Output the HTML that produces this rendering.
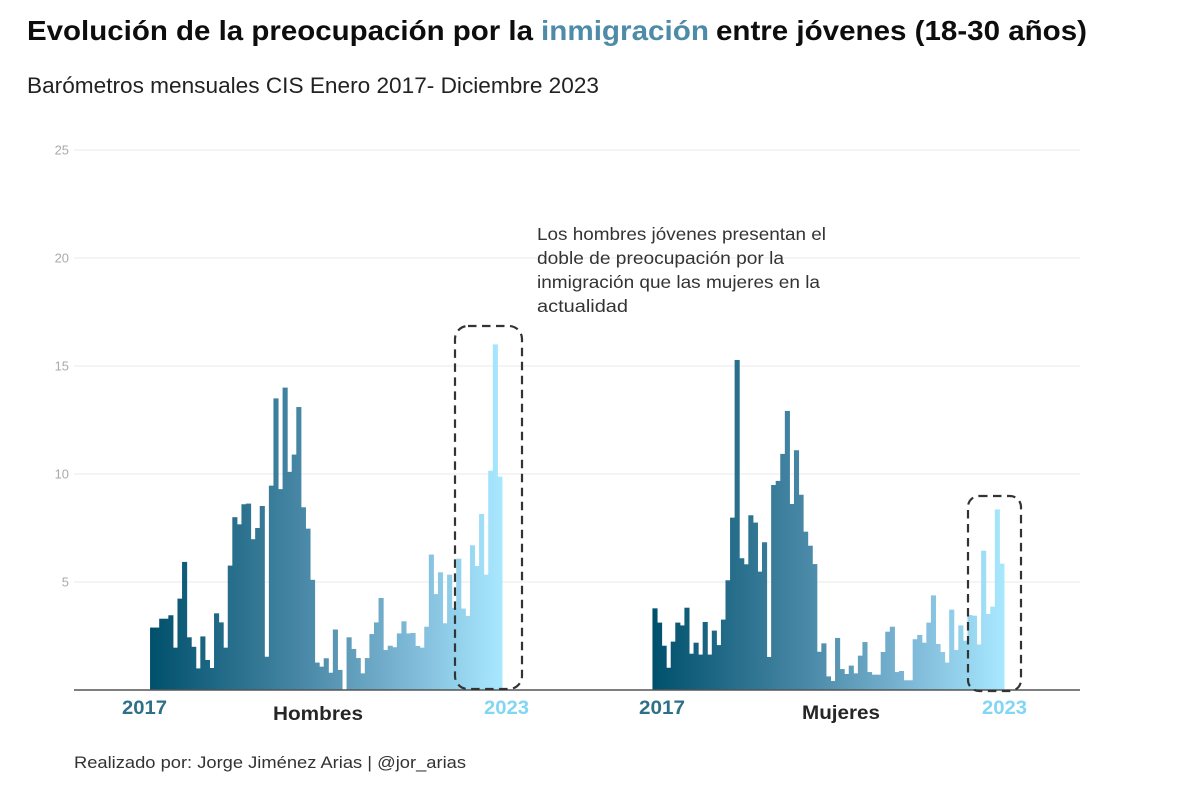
<!DOCTYPE html>
<html lang="es">
<head>
<meta charset="utf-8">
<title>Evolución de la preocupación por la inmigración</title>
<style>
html,body{margin:0;padding:0;background:#fff;}
svg{display:block;font-family:"Liberation Sans",sans-serif;}
</style>
</head>
<body>
<svg id="chart" width="1200" height="806" viewBox="0 0 1200 806" xmlns="http://www.w3.org/2000/svg">
  <defs>
    <linearGradient id="grad-hombres" gradientUnits="userSpaceOnUse" x1="150" y1="0" x2="502" y2="0">
      <stop offset="0" stop-color="#00506c"/>
      <stop offset="0.45" stop-color="#4b8aa8"/>
      <stop offset="0.75" stop-color="#80bbd9"/>
      <stop offset="1" stop-color="#a8e8ff"/>
    </linearGradient>
    <linearGradient id="grad-mujeres" gradientUnits="userSpaceOnUse" x1="653" y1="0" x2="1004" y2="0">
      <stop offset="0" stop-color="#00506c"/>
      <stop offset="0.45" stop-color="#4b8aa8"/>
      <stop offset="0.75" stop-color="#80bbd9"/>
      <stop offset="1" stop-color="#a8e8ff"/>
    </linearGradient>
  </defs>

  <text x="27" y="40" font-size="28" font-weight="700" fill="#0d0d0d" textLength="506" lengthAdjust="spacingAndGlyphs">Evolución de la preocupación por la</text>
  <text x="541" y="40" font-size="28" font-weight="700" fill="#4e8ba8" textLength="168" lengthAdjust="spacingAndGlyphs">inmigración</text>
  <text x="716" y="40" font-size="28" font-weight="700" fill="#0d0d0d" textLength="371" lengthAdjust="spacingAndGlyphs">entre jóvenes (18-30 años)</text>
  <text x="27" y="93" font-size="22" fill="#222" textLength="572" lengthAdjust="spacingAndGlyphs">Barómetros mensuales CIS Enero 2017- Diciembre 2023</text>

  <g id="grid"></g>
  <g id="bars-hombres"></g>
  <g id="bars-mujeres"></g>

  <line x1="74" x2="1080" y1="690" y2="690" stroke="#555" stroke-width="1.5"/>

  <rect x="455" y="326" width="67" height="363" rx="13" fill="none" stroke="#333" stroke-width="2.2" stroke-dasharray="8.5 5.5"/>
  <rect x="968" y="496" width="53" height="195" rx="11" fill="none" stroke="#333" stroke-width="2.2" stroke-dasharray="8.5 5.5"/>

  <g font-size="17.5" fill="#333">
    <text x="537" y="240" textLength="289" lengthAdjust="spacingAndGlyphs">Los hombres jóvenes presentan el</text>
    <text x="537" y="264" textLength="247" lengthAdjust="spacingAndGlyphs">doble de preocupación por la</text>
    <text x="537" y="288" textLength="283" lengthAdjust="spacingAndGlyphs">inmigración que las mujeres en la</text>
    <text x="537" y="312" textLength="91" lengthAdjust="spacingAndGlyphs">actualidad</text>
  </g>

  <text x="122" y="714" font-size="19.5" font-weight="700" fill="#2e7088" textLength="45" lengthAdjust="spacingAndGlyphs">2017</text>
  <text x="484" y="714" font-size="19.5" font-weight="700" fill="#80d6f3" textLength="45" lengthAdjust="spacingAndGlyphs">2023</text>
  <text x="273" y="720" font-size="19.5" font-weight="700" fill="#262626" textLength="90" lengthAdjust="spacingAndGlyphs">Hombres</text>
  <text x="639" y="714" font-size="19.5" font-weight="700" fill="#2e7088" textLength="46" lengthAdjust="spacingAndGlyphs">2017</text>
  <text x="982" y="714" font-size="19.5" font-weight="700" fill="#80d6f3" textLength="45" lengthAdjust="spacingAndGlyphs">2023</text>
  <text x="802" y="719" font-size="19.5" font-weight="700" fill="#262626" textLength="78" lengthAdjust="spacingAndGlyphs">Mujeres</text>

  <text x="74" y="768" font-size="17" fill="#333" textLength="392" lengthAdjust="spacingAndGlyphs">Realizado por: Jorge Jiménez Arias | @jor_arias</text>
</svg>

<script>
const yTicks = [5, 10, 15, 20, 25];
const hombresValues = [2.89,2.89,3.3,3.3,3.46,1.96,4.23,5.93,2.44,2.0,1.0,2.48,1.39,1.02,3.55,3.13,1.96,5.76,8.0,7.67,8.6,8.63,6.98,7.5,8.52,1.54,9.46,13.5,9.3,14.0,10.1,10.9,13.1,8.46,7.47,5.1,1.27,1.08,1.47,0.8,2.8,0.93,0,2.44,1.9,1.48,0.77,1.48,2.59,3.13,4.26,1.85,2.05,1.98,2.62,3.18,2.62,2.64,2.04,1.96,2.93,6.27,4.44,5.45,3.09,5.34,3.8,6.08,3.77,3.43,6.7,5.74,8.15,5.34,10.15,16.0,9.88];
const mujeresValues = [3.78,3.12,2.05,1.03,2.24,3.12,2.99,3.81,1.68,2.19,1.64,3.15,1.64,2.75,2.08,3.26,5.08,7.98,15.28,6.1,5.82,8.09,7.75,5.48,6.84,1.53,9.49,9.68,10.93,12.92,8.61,11.1,9.04,7.33,6.68,5.83,1.77,2.16,0.63,0.42,2.41,0.97,0.74,1.13,0.77,1.59,2.22,0.83,0.71,0.71,1.76,2.7,2.93,0.83,0.88,0.45,0.45,2.35,2.55,2.19,3.12,4.38,2.13,1.76,1.27,3.72,1.85,2.99,2.28,3.47,3.44,2.11,6.45,3.52,3.86,8.36,5.85];

const SVG_NS = 'http://www.w3.org/2000/svg';
const yScale = function (v) { return 690 - v * 21.6; };
const xHombres = function (i) { return 150.3 + i * 4.57; };
const xMujeres = function (i) { return 652.7 + i * 4.565; };

const grid = document.getElementById('grid');
yTicks.forEach(function (t) {
  const line = document.createElementNS(SVG_NS, 'line');
  
  
  line.setAttribute('x1', 74);
  line.setAttribute('x2', 1080);
  line.setAttribute('y1', yScale(t));
  line.setAttribute('y2', yScale(t));
  line.setAttribute('stroke', '#e8e8e8');
  line.setAttribute('stroke-width', 1);
  grid.appendChild(line);
  const label = document.createElementNS(SVG_NS, 'text');
  
  
  label.setAttribute('x', 69);
  label.setAttribute('y', yScale(t) + 4.5);
  label.setAttribute('text-anchor', 'end');
  label.setAttribute('font-size', 13);
  label.setAttribute('fill', '#aaaaaa');
  label.setAttribute('textLength', String(t).length * 7.2);
  label.setAttribute('lengthAdjust', 'spacingAndGlyphs');
  label.textContent = t;
  grid.appendChild(label);
});

function drawBars(groupId, values, xScale, fill, width) {
  const group = document.getElementById(groupId);
  values.forEach(function (v, i) {
    const rect = document.createElementNS(SVG_NS, 'rect');
    
    
    rect.setAttribute('x', xScale(i) - 0.25);
    rect.setAttribute('y', yScale(v));
    rect.setAttribute('width', width);
    rect.setAttribute('height', yScale(0) - yScale(v));
    rect.setAttribute('fill', fill);
    group.appendChild(rect);
  });
}

drawBars('bars-hombres', hombresValues, xHombres, 'url(#grad-hombres)', 5.1);
drawBars('bars-mujeres', mujeresValues, xMujeres, 'url(#grad-mujeres)', 5.1);
</script>
</body>
</html>
